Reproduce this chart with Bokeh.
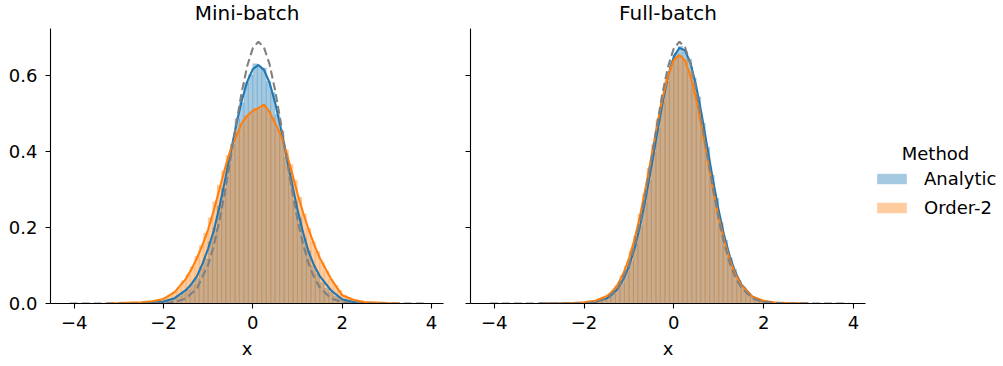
from bokeh.plotting import figure
from bokeh.layouts import row
from bokeh.models import (Range1d, FixedTicker, NumeralTickFormatter, CustomJSTickFormatter,
                          Legend, LegendItem, Label, ColumnDataSource)
from bokeh.embed import file_html
from bokeh.resources import INLINE

# ---------------- data ----------------
panels = ["Mini-batch", "Full-batch"]
methods = ["Analytic", "Order-2"]
legend_title_text = "Method"
method_colors = ["#1f77b4", "#ff7f0e"]
target_color = "#808080"

x_ticks = [-4, -2, 0, 2, 4]
x_tick_labels = ["\u22124", "\u22122", "0", "2", "4"]
y_ticks = [0.0, 0.2, 0.4, 0.6]

# histogram bins (density)
bin_start = -2.5
bin_width = 0.1

hist_mini_analytic = [
    0.001, 0.001, 0.002, 0.003, 0.004, 0.006, 0.009, 0.013, 0.019, 0.028,
    0.037, 0.051, 0.066, 0.094, 0.118, 0.162, 0.199, 0.257, 0.304, 0.371,
    0.420, 0.487, 0.529, 0.582, 0.603, 0.632, 0.624, 0.621, 0.585, 0.556,
    0.498, 0.454, 0.386, 0.335, 0.270, 0.226, 0.172, 0.139, 0.100, 0.078,
    0.055, 0.040, 0.030, 0.020, 0.013, 0.009, 0.006, 0.004, 0.002, 0.0015,
    0.001, 0.0005, 0.0003, 0.0002]
hist_mini_order2 = [
    0.002, 0.004, 0.005, 0.008, 0.012, 0.015, 0.021, 0.031, 0.042, 0.060,
    0.076, 0.097, 0.124, 0.153, 0.186, 0.226, 0.268, 0.312, 0.350, 0.390,
    0.418, 0.452, 0.470, 0.494, 0.500, 0.515, 0.512, 0.520, 0.506, 0.490,
    0.458, 0.440, 0.405, 0.366, 0.325, 0.280, 0.236, 0.198, 0.163, 0.137,
    0.108, 0.086, 0.064, 0.048, 0.034, 0.022, 0.015, 0.010, 0.007, 0.005,
    0.003, 0.002, 0.0015, 0.001]
hist_full_analytic = [
    0.0002, 0.0003, 0.0005, 0.0006, 0.001, 0.0015, 0.002, 0.004, 0.006, 0.010,
    0.017, 0.025, 0.040, 0.056, 0.084, 0.113, 0.158, 0.204, 0.266, 0.325,
    0.398, 0.462, 0.533, 0.585, 0.637, 0.660, 0.678, 0.664, 0.644, 0.595,
    0.545, 0.475, 0.412, 0.338, 0.278, 0.213, 0.167, 0.121, 0.090, 0.061,
    0.043, 0.027, 0.019, 0.011, 0.007, 0.004, 0.0024, 0.0014, 0.0008, 0.0005,
    0.0003, 0.0002, 0.0001, 0.0001]
hist_full_order2 = [
    0.0004, 0.0006, 0.0008, 0.0012, 0.0018, 0.0027, 0.004, 0.006, 0.009, 0.015,
    0.022, 0.035, 0.049, 0.074, 0.099, 0.139, 0.179, 0.235, 0.289, 0.357,
    0.418, 0.486, 0.540, 0.596, 0.627, 0.653, 0.651, 0.643, 0.606, 0.567,
    0.506, 0.449, 0.378, 0.318, 0.253, 0.203, 0.152, 0.116, 0.081, 0.059,
    0.039, 0.028, 0.016, 0.011, 0.007, 0.0045, 0.003, 0.002, 0.0014, 0.001,
    0.0007, 0.0005, 0.0003, 0.0002]

# KDE curves
kde_mini_analytic_x = [-3.0, -2.5, -2.25, -2.0, -1.75, -1.5, -1.375, -1.25, -1.125, -1.0,
                       -0.875, -0.75, -0.625, -0.5, -0.375, -0.25, -0.125, 0.0, 0.125, 0.25,
                       0.375, 0.5, 0.625, 0.75, 0.875, 1.0, 1.125, 1.25, 1.375, 1.5,
                       1.75, 2.0, 2.25, 2.5, 2.75, 3.0]
kde_mini_analytic_y = [0.0, 0.001, 0.002, 0.005, 0.014, 0.035, 0.051, 0.072, 0.105, 0.145,
                       0.191, 0.253, 0.323, 0.396, 0.469, 0.534, 0.585, 0.618, 0.629, 0.616,
                       0.582, 0.529, 0.463, 0.390, 0.317, 0.248, 0.187, 0.136, 0.100, 0.072,
                       0.035, 0.011, 0.004, 0.0015, 0.0003, 0.0]
kde_mini_order2_x = [-3.3, -3.0, -2.5, -2.25, -2.0, -1.75, -1.5, -1.375, -1.25, -1.125,
                     -1.0, -0.875, -0.75, -0.625, -0.5, -0.375, -0.25, -0.125, 0.0, 0.125,
                     0.25, 0.375, 0.5, 0.625, 0.75, 0.875, 1.0, 1.125, 1.25, 1.375,
                     1.5, 1.75, 2.0, 2.25, 2.5, 3.0, 3.3]
kde_mini_order2_y = [0.0, 0.001, 0.003, 0.006, 0.012, 0.03, 0.065, 0.09, 0.12, 0.155,
                     0.195, 0.245, 0.30, 0.355, 0.405, 0.44, 0.475, 0.495, 0.508, 0.515,
                     0.524, 0.505, 0.475, 0.445, 0.40, 0.345, 0.29, 0.24, 0.195, 0.155,
                     0.12, 0.065, 0.022, 0.01, 0.004, 0.001, 0.0]
kde_full_analytic_x = [-3.0, -2.5, -2.25, -2.0, -1.75, -1.5, -1.375, -1.25, -1.125, -1.0,
                       -0.875, -0.75, -0.625, -0.5, -0.375, -0.25, -0.125, 0.0, 0.125, 0.25,
                       0.375, 0.5, 0.625, 0.75, 0.875, 1.0, 1.125, 1.25, 1.375, 1.5,
                       1.75, 2.0, 2.25, 2.5, 3.0]
kde_full_analytic_y = [0.0, 0.0002, 0.0006, 0.0012, 0.0045, 0.013, 0.024, 0.039, 0.064, 0.098,
                       0.145, 0.206, 0.279, 0.361, 0.447, 0.530, 0.601, 0.651, 0.674, 0.667,
                       0.632, 0.572, 0.495, 0.409, 0.324, 0.245, 0.177, 0.123, 0.081, 0.051,
                       0.018, 0.0055, 0.0015, 0.0004, 0.0]
kde_full_order2_x = [-3.0, -2.5, -2.25, -2.0, -1.75, -1.5, -1.375, -1.25, -1.125, -1.0,
                     -0.875, -0.75, -0.625, -0.5, -0.375, -0.25, -0.125, 0.0, 0.125, 0.25,
                     0.375, 0.5, 0.625, 0.75, 0.875, 1.0, 1.125, 1.25, 1.375, 1.5,
                     1.75, 2.0, 2.25, 2.5, 2.75, 3.0]
kde_full_order2_y = [0.0, 0.0005, 0.0012, 0.003, 0.007, 0.019, 0.031, 0.050, 0.079, 0.118,
                     0.169, 0.233, 0.307, 0.387, 0.469, 0.543, 0.603, 0.642, 0.655, 0.640,
                     0.599, 0.538, 0.462, 0.381, 0.300, 0.227, 0.165, 0.114, 0.076, 0.049,
                     0.018, 0.007, 0.0025, 0.001, 0.0003, 0.0]

# target (true) density, dashed grey
target_x = [-4.1, -3.0, -2.5, -2.0, -1.75, -1.5, -1.25, -1.0, -0.875, -0.75,
            -0.625, -0.5, -0.375, -0.25, -0.125, 0.0, 0.125, 0.25, 0.375, 0.5,
            0.625, 0.75, 0.875, 1.0, 1.125, 1.25, 1.375, 1.5, 1.75, 2.0,
            2.5, 3.0, 3.9]
target_y = [0.0, 0.0, 0.0001, 0.0008, 0.0035, 0.013, 0.040, 0.102, 0.152, 0.217,
            0.294, 0.381, 0.471, 0.556, 0.626, 0.673, 0.690, 0.675, 0.631, 0.562,
            0.478, 0.388, 0.301, 0.222, 0.157, 0.105, 0.068, 0.042, 0.0136, 0.0037,
            0.0001, 0.0, 0.0]

panel_hists = [[hist_mini_analytic, hist_mini_order2], [hist_full_analytic, hist_full_order2]]
panel_kdes = [[(kde_mini_analytic_x, kde_mini_analytic_y), (kde_mini_order2_x, kde_mini_order2_y)],
              [(kde_full_analytic_x, kde_full_analytic_y), (kde_full_order2_x, kde_full_order2_y)]]

# ---------------- styling ----------------
FONT = "DejaVu Sans"
TICK_SIZE = "18px"
TITLE_SIZE = "20px"
FRAME_W = [393, 395]
AXES_H = 275            # height of the drawn axes area
HEAD_H = 28             # room above the axes for the panel titles
BORDER_BOTTOM = 55
X_RANGE = (-4.53, 4.27)
Y_AXIS_TOP = 0.725
Y_TOP = Y_AXIS_TOP * (AXES_H + HEAD_H) / AXES_H


def hist_source(vals):
    lefts = [bin_start + i * bin_width for i in range(len(vals))]
    rights = [l + bin_width for l in lefts]
    return ColumnDataSource(dict(left=lefts, right=rights, top=vals, bottom=[0.0] * len(vals)))


def make_panel(idx):
    p = figure(frame_width=FRAME_W[idx], frame_height=AXES_H + HEAD_H,
               x_range=Range1d(*X_RANGE), y_range=Range1d(0.0, Y_TOP),
               output_backend="svg", toolbar_location=None, title_location=None,
               min_border_left=50 if idx == 0 else 20,
               min_border_right=7 if idx == 0 else 5,
               min_border_top=0, min_border_bottom=BORDER_BOTTOM)
    p.outline_line_color = None
    p.xgrid.visible = False
    p.ygrid.visible = False
    p.background_fill_color = "white"
    p.border_fill_color = "white"

    for m, color in enumerate(method_colors):
        p.quad(left="left", right="right", top="top", bottom="bottom",
               source=hist_source(panel_hists[idx][m]),
               fill_color=color, fill_alpha=0.4, line_color=color, line_alpha=0.35,
               line_width=0.5)
    for m, color in enumerate(method_colors):
        kx, ky = panel_kdes[idx][m]
        p.line(kx, ky, line_color=color, line_width=2.1)
    p.line(target_x, target_y, line_color=target_color, line_width=2.1, line_dash="8 4")

    for ax in (p.xaxis[0], p.yaxis[0]):
        ax.axis_line_color = "black"
        ax.axis_line_width = 1.1
        ax.major_tick_line_color = "black"
        ax.major_tick_line_width = 1.1
        ax.major_tick_out = 5
        ax.major_tick_in = 0
        ax.minor_tick_line_color = None
        ax.major_label_text_font = FONT
        ax.major_label_text_font_size = TICK_SIZE
        ax.major_label_text_color = "black"

    p.xaxis.ticker = FixedTicker(ticks=x_ticks)
    p.xaxis.major_label_overrides = dict(zip(x_ticks, x_tick_labels))
    p.xaxis.major_label_standoff = 7
    p.xaxis.axis_label = "x"
    p.xaxis.axis_label_text_font = FONT
    p.xaxis.axis_label_text_font_size = TICK_SIZE
    p.xaxis.axis_label_text_font_style = "normal"
    p.xaxis.axis_label_text_color = "black"
    p.xaxis.axis_label_standoff = 6

    p.yaxis.ticker = FixedTicker(ticks=y_ticks)
    p.yaxis.bounds = (0.0, Y_AXIS_TOP)
    p.yaxis.major_label_standoff = 8
    if idx == 0:
        p.yaxis.formatter = NumeralTickFormatter(format="0.0")
    else:
        p.yaxis.formatter = CustomJSTickFormatter(code="return ''")
        p.yaxis.major_label_standoff = 0

    # panel title, centred above the axes
    p.add_layout(Label(x=FRAME_W[idx] / 2, y=AXES_H + HEAD_H - 12, x_units="screen", y_units="screen",
                       text=panels[idx], text_align="center", text_baseline="alphabetic",
                       text_font=FONT, text_font_size=TITLE_SIZE, text_color="black"))
    return p


p1 = make_panel(0)
p2 = make_panel(1)

# legend panel (its renderers hold the Full-batch histograms but stay hidden;
# they only provide the legend swatches)
LEG_W = 130
p3 = figure(frame_width=LEG_W, frame_height=AXES_H + HEAD_H,
            x_range=Range1d(*X_RANGE), y_range=Range1d(0.0, Y_TOP),
            output_backend="svg", toolbar_location=None, title_location=None,
            x_axis_location=None, y_axis_location=None,
            min_border_left=0, min_border_right=0,
            min_border_top=0, min_border_bottom=BORDER_BOTTOM)
p3.outline_line_color = None
p3.xgrid.visible = False
p3.ygrid.visible = False
items = []
for m, color in enumerate(method_colors):
    r = p3.quad(left="left", right="right", top="top", bottom="bottom",
                source=hist_source(panel_hists[1][m]),
                fill_color=color, fill_alpha=0.4, line_color=color, line_alpha=0.0)
    r.visible = False
    items.append(LegendItem(label=methods[m], renderers=[r]))
legend = Legend(items=items, location=(3, 85), orientation="vertical",
                glyph_width=37, glyph_height=13, label_standoff=14,
                label_text_font=FONT, label_text_font_size=TICK_SIZE, label_text_color="black",
                label_height=20, spacing=8, padding=0, margin=0,
                border_line_color=None, background_fill_alpha=0.0,
                inactive_fill_alpha=0.0)
p3.add_layout(legend)
p3.add_layout(Label(x=65, y=150, x_units="screen", y_units="screen", text=legend_title_text,
                    text_align="center", text_baseline="alphabetic",
                    text_font=FONT, text_font_size=TICK_SIZE, text_color="black"))

layout = row(p1, p2, p3)
open("out.html", "w").write(file_html(layout, INLINE))
